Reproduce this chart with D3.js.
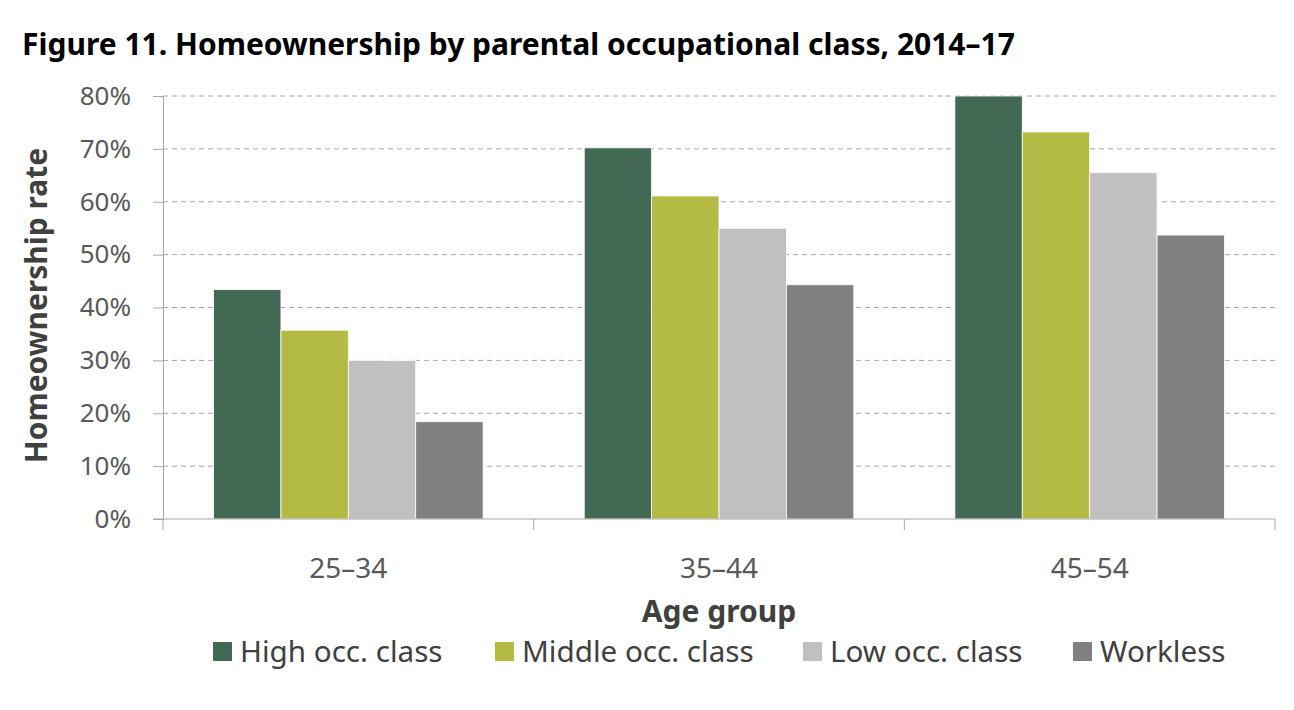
<!DOCTYPE html>
<html>
<head>
<meta charset="utf-8">
<script src="https://cdn.jsdelivr.net/npm/d3@7"></script>
<style>
  body { margin: 0; background: #fff; }
  svg { font-family: "Noto Sans", "Open Sans", sans-serif; }
</style>
</head>
<body>
<div id="chart"></div>
<script>
const ageGroups = ["25–34", "35–44", "45–54"];
const seriesNames = ["High occ. class", "Middle occ. class", "Low occ. class", "Workless"];
const seriesColors = ["#426953", "#b3bb45", "#c0c0c0", "#808080"];
const highValues = [43.4, 70.2, 80.0];
const middleValues = [35.7, 61.1, 73.2];
const lowValues = [30.0, 55.0, 65.5];
const worklessValues = [18.4, 44.3, 53.7];
const yTicks = [0, 10, 20, 30, 40, 50, 60, 70, 80];

const seriesValues = [highValues, middleValues, lowValues, worklessValues];

const W = 1294, H = 710;
const margin = {left: 163, right: 19, top: 96, bottom: 191};
const plotW = W - margin.left - margin.right;
const plotH = H - margin.top - margin.bottom;

const svg = d3.select("#chart").append("svg")
    .attr("width", W).attr("height", H);

svg.append("text")
    .attr("x", 22).attr("y", 55)
    .style("font-size", "30px").style("font-weight", "bold").attr("fill", "#000")
    .text("Figure 11. Homeownership by parental occupational class, 2014–17");

const g = svg.append("g").attr("transform", `translate(${margin.left},${margin.top})`);

const x0 = d3.scaleBand().domain(ageGroups).range([0, plotW]).paddingInner(0).paddingOuter(0);
const x1 = d3.scaleBand().domain(seriesNames).range([0, x0.bandwidth()]).paddingInner(0).paddingOuter(0.75);
const y = d3.scaleLinear().domain([0, 80]).range([plotH, 0]);

// gridlines
g.selectAll("line.grid").data(yTicks.slice(1)).enter().append("line")
    .attr("x1", 0).attr("x2", plotW)
    .attr("y1", d => y(d)).attr("y2", d => y(d))
    .attr("stroke", "#a6a6a6").attr("stroke-dasharray", "5,4").attr("stroke-width", 1);

// bars
const groups = g.selectAll("g.grp").data(ageGroups).enter().append("g")
    .attr("transform", d => `translate(${x0(d)},0)`);
groups.selectAll("rect").data((d, i) => seriesNames.map((s, j) => ({s, v: seriesValues[j][i], c: seriesColors[j]})))
    .enter().append("rect")
    .attr("x", d => x1(d.s))
    .attr("y", d => y(d.v))
    .attr("width", x1.bandwidth())
    .attr("height", d => plotH - y(d.v))
    .attr("fill", d => d.c)
    .attr("stroke", "#fff").attr("stroke-width", 0.8);

// y axis
const yAxis = g.append("g").call(d3.axisLeft(y).tickValues(yTicks).tickFormat(d => d + "%").tickSize(10).tickPadding(22));
yAxis.select(".domain").attr("stroke", "#a6a6a6");
yAxis.selectAll(".tick line").attr("stroke", "#a6a6a6");
yAxis.selectAll("text").style("font-size", "26px").attr("fill", "#595959")
    .style("font-family", "'Noto Sans', sans-serif");

// x axis
const xAxisG = g.append("g").attr("transform", `translate(0,${plotH})`);
xAxisG.append("line").attr("x1", -10).attr("x2", plotW).attr("y1", 0).attr("y2", 0).attr("stroke", "#a6a6a6");
const boundaries = ageGroups.map(d => x0(d)).concat([plotW]);
xAxisG.selectAll("line.tk").data(boundaries).enter().append("line")
    .attr("x1", d => d).attr("x2", d => d).attr("y1", 0).attr("y2", 11).attr("stroke", "#a6a6a6");
xAxisG.selectAll("text.lbl").data(ageGroups).enter().append("text")
    .attr("x", d => x0(d) + x0.bandwidth() / 2).attr("y", 59)
    .attr("text-anchor", "middle").style("font-size", "28px").attr("fill", "#595959")
    .text(d => d);

// axis titles
svg.append("text")
    .attr("x", margin.left + plotW / 2).attr("y", 622)
    .attr("text-anchor", "middle").style("font-size", "30px").style("font-weight", "bold").attr("fill", "#404040")
    .text("Age group");
svg.append("text")
    .attr("transform", `translate(47,${margin.top + plotH / 2 - 2}) rotate(-90)`)
    .attr("text-anchor", "middle").style("font-size", "30px").style("font-weight", "bold").attr("fill", "#404040")
    .text("Homeownership rate");

// legend
const legendX = [213, 495, 803, 1073];
const legend = svg.selectAll("g.leg").data(seriesNames).enter().append("g")
    .attr("transform", (d, i) => `translate(${legendX[i]},642)`);
legend.append("rect").attr("width", 19).attr("height", 19).attr("fill", (d, i) => seriesColors[i]);
legend.append("text").attr("x", 27).attr("y", 20)
    .style("font-size", "29.6px").attr("fill", "#404040").text(d => d);
</script>
</body>
</html>
